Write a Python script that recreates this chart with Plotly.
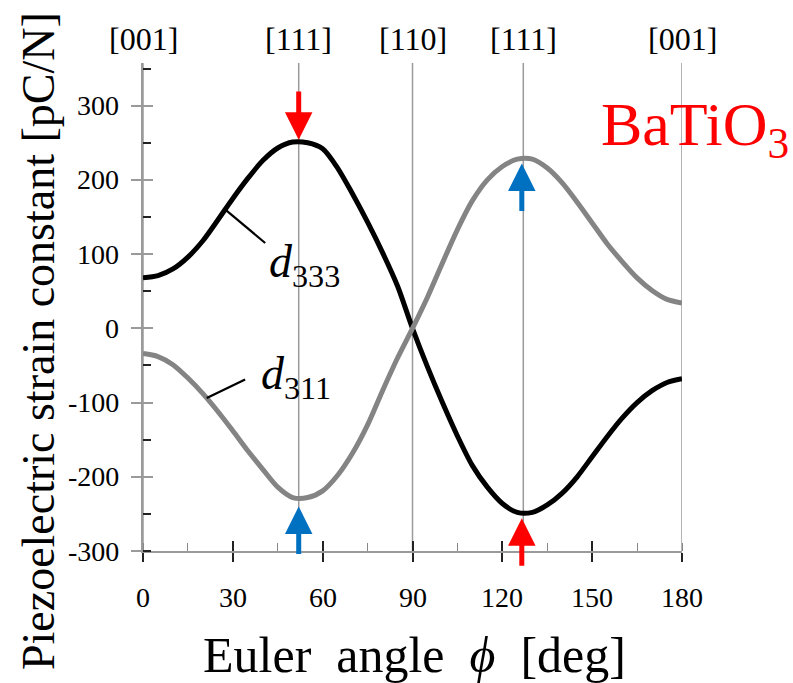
import plotly.graph_objects as go

# ---- data ----
angles = [0, 5, 10, 15, 20, 25, 30, 35, 40, 45, 50, 55, 60, 65, 70, 75, 80, 85, 90,
          95, 100, 105, 110, 115, 120, 125, 130, 135, 140, 145, 150, 155, 160, 165,
          170, 175, 180]
d333 = [68, 71, 80, 96, 118, 146, 175, 202, 226, 243, 251, 250, 242, 216, 181, 143,
        102, 57, 0, -52, -100, -145, -185, -214, -236, -248, -248, -238, -222, -200,
        -173, -146, -121, -100, -84, -73, -68]
d311 = [-34, -38, -49, -67, -88, -112, -138, -165, -190, -214, -228, -228, -219, -198,
        -168, -130, -84, -40, 0, 42, 88, 133, 172, 200, 218, 228, 228, 216,
        196, 170, 142, 114, 90, 68, 51, 39, 34]

direction_angles = [0, 52, 90, 127, 180]
direction_labels = ["[001]", "[111]", "[110]", "[111]", "[001]"]

x_ticks = [0, 30, 60, 90, 120, 150, 180]
x_ticktext = ["0", "30", "60", "90", "120", "150", "180"]
y_ticks = [-300, -200, -100, 0, 100, 200, 300]
y_ticktext = ["-300", "-200", "-100", "0", "100", "200", "300"]

# arrows: x, tip, tail, colour
arrow_x = [52, 52, 126.5, 126.5]
arrow_tip = [254, -240, 222, -256]
arrow_tail = [321, -306, 156, -322]
arrow_colors = ["#FF0000", "#0070C0", "#0070C0", "#FF0000"]

# curve labels and leader lines
label_texts = ["<i>d</i><sub>333</sub>", "<i>d</i><sub>311</sub>"]
label_x = [54, 51]
label_y = [86, -66]
leader_x0 = [27.2, 21.3]
leader_y0 = [161, -94]
leader_x1 = [40.8, 34.1]
leader_y1 = [115, -69]

FONT = "Liberation Serif"
AX_GRAY = "#9a9a9a"

fig = go.Figure()
fig.add_trace(go.Scatter(x=angles, y=d333, mode="lines",
                         line=dict(color="black", width=5, shape="spline", smoothing=0.8),
                         showlegend=False, hoverinfo="skip"))
fig.add_trace(go.Scatter(x=angles, y=d311, mode="lines",
                         line=dict(color="#848484", width=5, shape="spline", smoothing=0.8),
                         showlegend=False, hoverinfo="skip"))
# invisible trace so that the overlay axes (inside half of crossing ticks) render
fig.add_trace(go.Scatter(x=[angles[0]], y=[d333[0]], xaxis="x2", yaxis="y2", mode="markers",
                         marker=dict(opacity=0), showlegend=False, hoverinfo="skip"))

shapes = []
for a in direction_angles:
    shapes.append(dict(type="line", xref="x", yref="paper", x0=a, x1=a, y0=0, y1=1,
                       line=dict(color=AX_GRAY, width=1.5), layer="below"))
for i in range(len(leader_x0)):
    shapes.append(dict(type="line", xref="x", yref="y", x0=leader_x0[i], y0=leader_y0[i],
                       x1=leader_x1[i], y1=leader_y1[i], line=dict(color="black", width=2.2)))

tick_font = dict(family=FONT, size=28, color="black")

annotations = []
# tick labels (placed at the axis tick values)
for v, t in zip(x_ticks, x_ticktext):
    annotations.append(dict(x=v, y=0, xref="x", yref="paper", yshift=-46, text=t,
                            showarrow=False, xanchor="center", yanchor="middle",
                            font=tick_font))
for v, t in zip(y_ticks, y_ticktext):
    annotations.append(dict(x=0, y=v, xref="paper", yref="y", xshift=-22, text=t,
                            showarrow=False, xanchor="right", yanchor="middle",
                            font=tick_font))
for a, t in zip(direction_angles, direction_labels):
    annotations.append(dict(x=a, y=1, xref="x", yref="paper", yshift=24, text=t,
                            showarrow=False, xanchor="center", yanchor="middle",
                            font=dict(family=FONT, size=32, color="black")))
for i in range(len(arrow_x)):
    annotations.append(dict(x=arrow_x[i], y=arrow_tip[i], ax=arrow_x[i], ay=arrow_tail[i],
                            xref="x", yref="y", axref="x", ayref="y", text="",
                            showarrow=True, arrowhead=2, arrowsize=1.1, arrowwidth=5,
                            arrowcolor=arrow_colors[i]))
for i in range(len(label_texts)):
    annotations.append(dict(x=label_x[i], y=label_y[i], xref="x", yref="y",
                            text=label_texts[i], showarrow=False,
                            xanchor="center", yanchor="middle",
                            font=dict(family=FONT, size=46, color="black")))
annotations.append(dict(x=1.025, y=0.865, xref="paper", yref="paper",
                        xanchor="center", yanchor="middle",
                        text="BaTiO<sub>3</sub>", showarrow=False,
                        font=dict(family=FONT, size=62, color="#FF0000")))
annotations.append(dict(x=-0.195, y=0.43, xref="paper", yref="paper", textangle=-90,
                        xanchor="center", yanchor="middle",
                        text="Piezoelectric strain constant [pC/N]", showarrow=False,
                        font=dict(family=FONT, size=46, color="black")))
annotations.append(dict(x=0.504, y=-0.213, xref="paper", yref="paper",
                        xanchor="center", yanchor="middle",
                        text="Euler\u00a0\u00a0angle\u00a0\u00a0<i>\u03d5</i>\u00a0\u00a0[deg]",
                        showarrow=False, font=dict(family=FONT, size=50, color="black")))

fig.update_layout(
    width=793, height=683,
    margin=dict(l=143, r=111, t=63, b=132),
    paper_bgcolor="white", plot_bgcolor="white",
    font=dict(family=FONT, color="black", size=28),
    shapes=shapes, annotations=annotations,
    xaxis=dict(range=[0, 180], tickmode="array", tickvals=x_ticks,
               ticks="outside", ticklen=9, tickwidth=1.5, tickcolor="#222",
               showticklabels=False,
               minor=dict(ticks="inside", ticklen=8, dtick=15, tickwidth=1.2, tickcolor="#888"),
               showline=True, linecolor=AX_GRAY, linewidth=1.5,
               showgrid=False, zeroline=False),
    yaxis=dict(range=[-300, 357.5], tickmode="array", tickvals=y_ticks,
               ticks="outside", ticklen=10, tickwidth=1.5, tickcolor=AX_GRAY,
               showticklabels=False,
               minor=dict(ticks="inside", ticklen=8, dtick=50, tickwidth=1.5, tickcolor="#222"),
               showline=True, linecolor=AX_GRAY, linewidth=1.5,
               showgrid=False, zeroline=False),
    xaxis2=dict(overlaying="x", matches="x", anchor="y", side="bottom",
                tickmode="array", tickvals=x_ticks, ticks="inside", ticklen=10,
                tickwidth=1.5, tickcolor="#222",
                showticklabels=False, showline=False, showgrid=False, zeroline=False),
    yaxis2=dict(overlaying="y", matches="y", anchor="x", side="left",
                tickmode="array", tickvals=y_ticks, ticks="inside", ticklen=10,
                tickwidth=1.5, tickcolor=AX_GRAY,
                showticklabels=False, showline=False, showgrid=False, zeroline=False),
)

fig.write_html("out.html")
